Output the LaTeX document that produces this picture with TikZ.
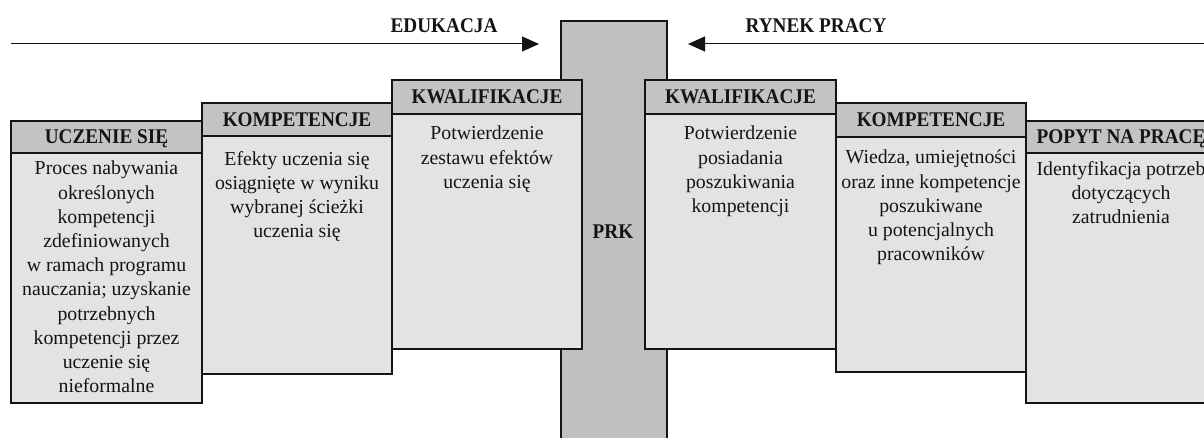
\documentclass[tikz,border=0pt]{standalone}
\usepackage{fontspec}
\setmainfont{Liberation Serif}
\newfontfamily\hdrfont[FakeStretch=0.92]{Liberation Serif}
\usetikzlibrary{arrows.meta}
\definecolor{hdr}{HTML}{C3C3C3}
\definecolor{bdy}{HTML}{E3E3E3}
\definecolor{barc}{HTML}{C0C0C0}
\definecolor{ink}{HTML}{141414}
\tikzset{
  bodyrect/.style={draw=ink, line width=1.8pt, fill=bdy},
  hdrrect/.style={draw=ink, line width=1.8pt, fill=hdr},
  barrect/.style={draw=ink, line width=1.8pt, fill=barc},
  hdrtxt/.style={anchor=base, inner sep=0pt, text=ink, font=\hdrfont\fontsize{20.9}{24}\selectfont\bfseries},
  bodytxt/.style={anchor=north, inner sep=0pt, align=center, text=ink, font=\fontsize{19.8}{24.2}\selectfont},
  flowarrow/.style={draw=ink, line width=1pt, -{Triangle[length=17pt,width=15pt]}}
}
\begin{document}
\begin{tikzpicture}[x=1pt,y=-1pt]
\useasboundingbox (0,0) rectangle (1204,438);
\clip (0,0) rectangle (1204,438);
\fill[white] (0,0) rectangle (1204,438);
% arrows and labels
\coordinate (eduStart) at (11,44);
\coordinate (eduEnd) at (539,44);
\coordinate (rynStart) at (1215,44);
\coordinate (rynEnd) at (688,44);
\draw[flowarrow] (eduStart) -- (eduEnd);
\draw[flowarrow] (rynStart) -- (rynEnd);
\node[hdrtxt] (edu) at (444,33) {EDUKACJA};
\node[hdrtxt] (ryn) at (816,33) {RYNEK PRACY};
% central bar
\draw[barrect] (561,21) rectangle (667,470);
\node[hdrtxt] (prk) at (613,239) {PRK};
% left boxes
\draw[bodyrect] (11,121) rectangle (202,403);
\draw[hdrrect] (11,121) rectangle (202,153);
\node[hdrtxt] (h1) at (106.5,143.5) {UCZENIE SIĘ};
\node[bodytxt] (t1) at (106.5,161) {Proces nabywania\\określonych\\kompetencji\\zdefiniowanych\\w ramach programu\\nauczania; uzyskanie\\potrzebnych\\kompetencji przez\\uczenie się\\nieformalne};
\draw[bodyrect] (202,103) rectangle (392,374);
\draw[hdrrect] (202,103) rectangle (392,136);
\node[hdrtxt] (h2) at (297,126.5) {KOMPETENCJE};
\node[bodytxt] (t2) at (297,151) {Efekty uczenia się\\osiągnięte w wyniku\\wybranej ścieżki\\uczenia się};
\draw[bodyrect] (392,80) rectangle (582,349);
\draw[hdrrect] (392,80) rectangle (582,114);
\node[hdrtxt] (h3) at (487,103.5) {KWALIFIKACJE};
\node[bodytxt] (t3) at (487,126) {Potwierdzenie\\zestawu efektów\\uczenia się};
% right boxes
\draw[bodyrect] (645,80) rectangle (836,349);
\draw[hdrrect] (645,80) rectangle (836,114);
\node[hdrtxt] (h4) at (740.5,103.5) {KWALIFIKACJE};
\node[bodytxt] (t4) at (740.5,126) {Potwierdzenie\\posiadania\\poszukiwania\\kompetencji};
\draw[bodyrect] (836,103) rectangle (1026,372);
\draw[hdrrect] (836,103) rectangle (1026,137);
\node[hdrtxt] (h5) at (931,126.5) {KOMPETENCJE};
\node[bodytxt] (t5) at (931,150) {Wiedza, umiejętności\\oraz inne kompetencje\\poszukiwane\\u potencjalnych\\pracowników};
\draw[bodyrect] (1026,121) rectangle (1216,403);
\draw[hdrrect] (1026,121) rectangle (1216,153);
\node[hdrtxt] (h6) at (1121,143.5) {POPYT NA PRACĘ};
\node[bodytxt] (t6) at (1121,161) {Identyfikacja potrzeb\\dotyczących\\zatrudnienia};
\end{tikzpicture}
\end{document}
